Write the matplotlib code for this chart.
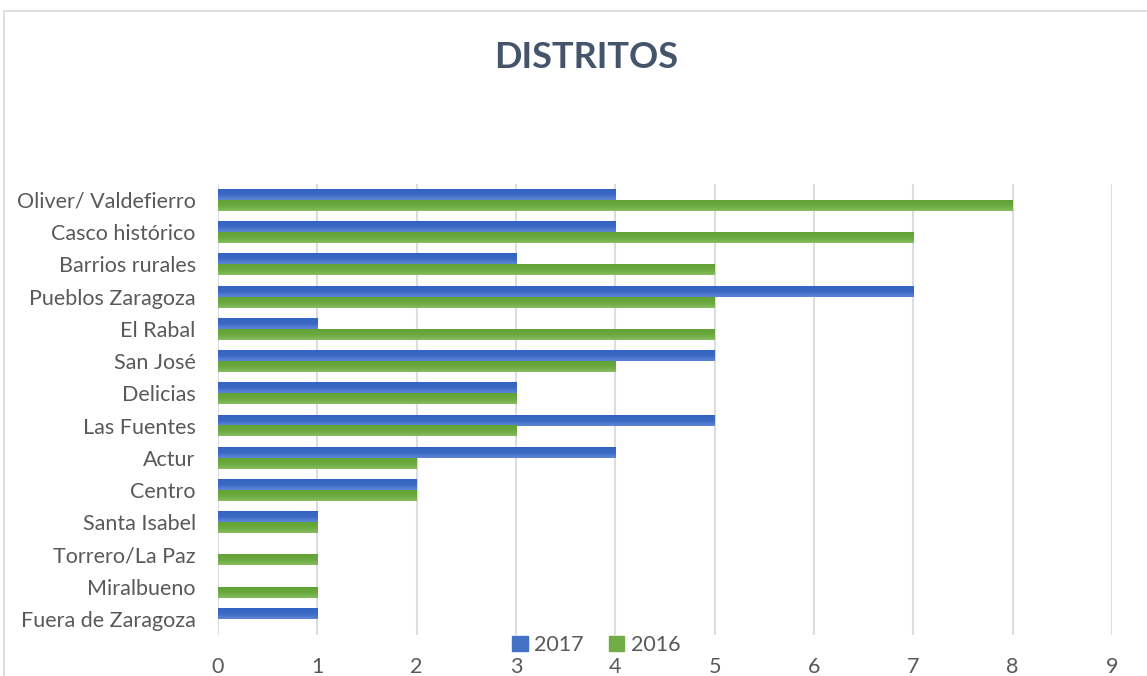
import numpy as np
import matplotlib
matplotlib.use('Agg')
import matplotlib.pyplot as plt
from matplotlib.colors import LinearSegmentedColormap
from matplotlib.patches import Rectangle

categories = ['Oliver/ Valdefierro', 'Casco histórico', 'Barrios rurales', 'Pueblos Zaragoza',
              'El Rabal', 'San José', 'Delicias', 'Las Fuentes', 'Actur', 'Centro',
              'Santa Isabel', 'Torrero/La Paz', 'Miralbueno', 'Fuera de Zaragoza']
values2017 = [4, 4, 3, 7, 1, 5, 3, 5, 4, 2, 1, 0, 0, 1]
values2016 = [8, 7, 5, 5, 5, 4, 3, 3, 2, 2, 1, 1, 1, 0]
seriesNames = ['2017', '2016']
xTicks = list(range(0, 10))

plt.rcParams['font.family'] = ['Lato', 'DejaVu Sans']

blueMap = LinearSegmentedColormap.from_list('b', ['#5f86d5', '#3a69c4', '#3164c1'])
greenMap = LinearSegmentedColormap.from_list('g', ['#86bd5f', '#6ba93f', '#62a234'])


def shadeBars(ax, bars, cmap):
    # excel style gradient inside each bar
    grad = np.linspace(0, 1, 64).reshape(-1, 1)
    for b in bars:
        if b.get_width() <= 0:
            continue
        x0, y0 = b.get_x(), b.get_y()
        x1, y1 = x0 + b.get_width(), y0 + b.get_height()
        ax.imshow(grad, cmap=cmap, extent=(x0, x1, y1, y0), aspect='auto',
                  origin='upper', zorder=3, interpolation='bilinear')
        b.set_alpha(0)


fig = plt.figure(figsize=(11.47, 6.76), dpi=100)
ax = fig.add_axes([0.19, 0.0607, 0.7795, 0.6673])

n = len(categories)
ypos = np.arange(n)[::-1]
h = 0.34
bars17 = ax.barh(ypos + h / 2, values2017, height=h, color='#4472c4', zorder=3, label=seriesNames[0])
bars16 = ax.barh(ypos - h / 2, values2016, height=h, color='#70ad47', zorder=3, label=seriesNames[1])
shadeBars(ax, bars17, blueMap)
shadeBars(ax, bars16, greenMap)

ax.set_xlim(0, 9)
ax.set_ylim(-0.5, n - 0.5)
ax.set_xticks(xTicks)
ax.set_yticks(ypos)
ax.set_yticklabels(categories)
ax.grid(axis='x', color='#dadde3', linewidth=1.5, zorder=0)
ax.set_axisbelow(True)
for s in ax.spines.values():
    s.set_visible(False)
ax.tick_params(axis='both', length=0, labelsize=15.5, labelcolor='#595959')
ax.tick_params(axis='x', pad=16)
ax.tick_params(axis='y', pad=16)

fig.text(0.511, 0.915, 'DISTRITOS', ha='center', va='center', fontsize=26,
         fontweight='bold', color='#44546a')

handles = [Rectangle((0, 0), 1, 1, color='#4472c4'), Rectangle((0, 0), 1, 1, color='#70ad47')]
fig.legend(handles, seriesNames, loc='center', bbox_to_anchor=(0.52, 0.046), ncol=2,
           frameon=False, fontsize=15.5, labelcolor='#595959', handlelength=0.7,
           handleheight=0.7, handletextpad=0.3, columnspacing=1.2)

fig.patches.append(Rectangle((0.0035, -0.1), 1.2, 1.1 - 11 / 676, transform=fig.transFigure,
                             fill=False, edgecolor='#d9d9d9', linewidth=1.2))

fig.savefig('out.png', dpi=100)
